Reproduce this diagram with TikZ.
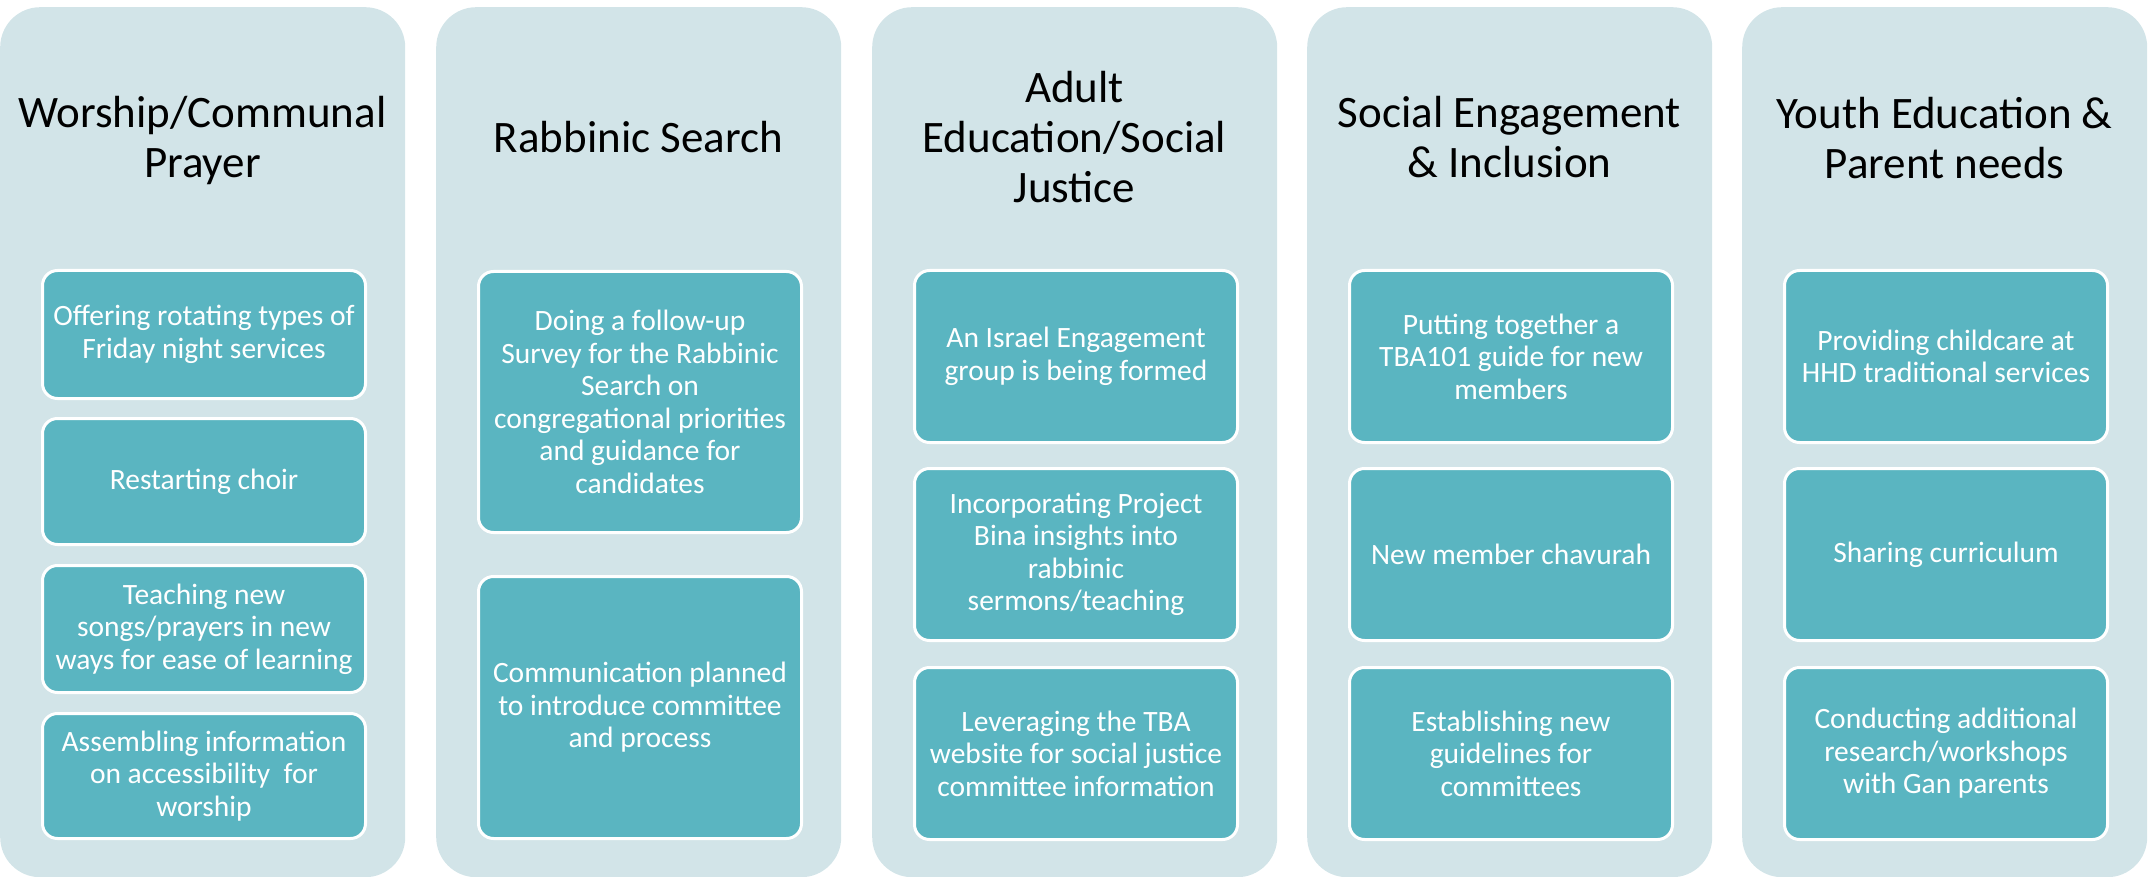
\documentclass[tikz,border=0pt]{standalone}
\usepackage{fontspec}
\setmainfont{Carlito}
\definecolor{outerbg}{RGB}{210,228,232}
\definecolor{innerbg}{RGB}{90,181,193}
\tikzset{
  colbox/.style={fill=outerbg, draw=none, rounded corners=40pt, minimum width=405pt, minimum height=870pt, anchor=north west, inner sep=0pt},
  coltitle/.style={align=center, font=\fontsize{45}{50}\selectfont, text=black, inner sep=0pt, anchor=center},
  itembox/.style={fill=innerbg, draw=white, line width=3pt, rounded corners=15pt, minimum width=323pt, anchor=north west, inner sep=0pt, align=center, text=white, font=\fontsize{29.5}{32.5}\selectfont},
}
\begin{document}
\begin{tikzpicture}[x=1pt,y=-1pt]
\useasboundingbox (0,0) rectangle (2150,877);
% column 1
\node[colbox] (c1) at (0,7) {};
\node[coltitle] (t1) at (202.5,141) {Worship/Communal\\Prayer};
\node[itembox, minimum height=128pt] (c1a) at (41,269) {Offering rotating types of\\Friday night services};
\node[itembox, minimum height=126pt] (c1b) at (41,417) {Restarting choir};
\node[itembox, minimum height=127pt] (c1c) at (41,564) {Teaching new\\songs/prayers in new\\ways for ease of learning};
\node[itembox, minimum height=125pt] (c1d) at (41,712) {Assembling information\\on accessibility\ \ for\\worship};
% column 2
\node[colbox] (c2) at (436,7) {};
\node[coltitle] (t2) at (638.5,137) {Rabbinic Search};
\node[itembox, minimum height=261pt] (c2a) at (477,270) {Doing a follow-up\\Survey for the Rabbinic\\Search on\\congregational priorities\\and guidance for\\candidates};
\node[itembox, minimum height=262pt] (c2b) at (477,575) {Communication planned\\to introduce committee\\and process};
% column 3
\node[colbox] (c3) at (872,7) {};
\node[coltitle] (t3) at (1074.5,137) {Adult\\Education/Social\\Justice};
\node[itembox, minimum height=172pt] (c3a) at (913,269) {An Israel Engagement\\group is being formed};
\node[itembox, minimum height=172pt] (c3b) at (913,467) {Incorporating Project\\Bina insights into\\rabbinic\\sermons/teaching};
\node[itembox, minimum height=172pt] (c3c) at (913,666) {Leveraging the TBA\\website for social justice\\committee information};
% column 4
\node[colbox] (c4) at (1307,7) {};
\node[coltitle] (t4) at (1509.5,137) {Social Engagement\\\& Inclusion};
\node[itembox, minimum height=172pt] (c4a) at (1348,269) {Putting together a\\TBA101 guide for new\\members};
\node[itembox, minimum height=172pt] (c4b) at (1348,467) {New member chavurah};
\node[itembox, minimum height=172pt] (c4c) at (1348,666) {Establishing new\\guidelines for\\committees};
% column 5
\node[colbox] (c5) at (1742,7) {};
\node[coltitle] (t5) at (1944.5,138) {Youth Education \&\\Parent needs};
\node[itembox, minimum height=172pt] (c5a) at (1783,269) {Providing childcare at\\HHD traditional services};
\node[itembox, minimum height=172pt] (c5b) at (1783,467) {Sharing curriculum};
\node[itembox, minimum height=172pt] (c5c) at (1783,666) {Conducting additional\\research/workshops\\with Gan parents};
\end{tikzpicture}
\end{document}
